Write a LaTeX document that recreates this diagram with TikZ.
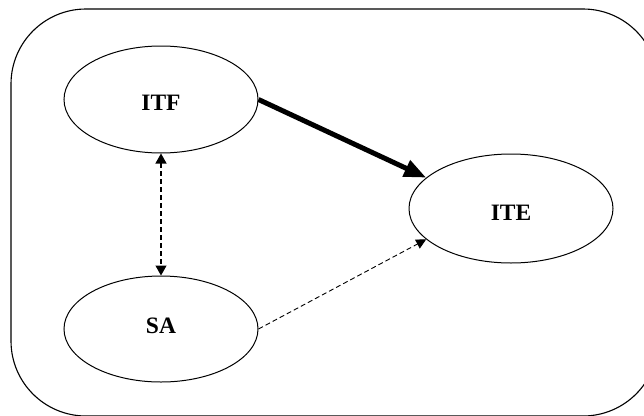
\documentclass[tikz,border=0pt]{standalone}
\usepackage{fontspec}
\setmainfont{Liberation Serif}
\usetikzlibrary{shapes.geometric,arrows.meta}
\begin{document}
\begin{tikzpicture}[x=1pt,y=-1pt,
  oval/.style={draw,line width=1pt,ellipse,inner sep=0pt},
  lbl/.style={font=\fontsize{23.5}{27}\selectfont\bfseries},
  strong/.style={line width=5pt,-{Triangle[length=22pt,width=17pt]}},
  weak/.style={line width=0.9pt,dash pattern=on 5pt off 3pt,-{Triangle[length=10pt,width=10pt]}},
  both/.style={line width=1.2pt,dash pattern=on 5pt off 3pt,{Triangle[length=10pt,width=11pt]}-{Triangle[length=10pt,width=11pt]}}]
\useasboundingbox (0,0) rectangle (644,415);
\clip (0,0) rectangle (644,415);
\draw[line width=1.1pt,rounded corners=75pt] (11,9) rectangle (658,416);
\node[oval,minimum width=194pt,minimum height=107pt,label={[lbl,yshift=-3.5pt]center:ITF}] (itf) at (161,99.5) {};
\node[oval,minimum width=194pt,minimum height=106pt,label={[lbl,yshift=3pt]center:SA}] (sa) at (161,329) {};
\node[oval,minimum width=204pt,minimum height=109pt,label={[lbl,yshift=-4pt]center:ITE}] (ite) at (511,208.5) {};
\draw[strong] (itf.east) -- (ite.160);
\draw[weak] (sa.east) -- (ite.200);
\draw[both] (itf.south) -- (sa.north);
\end{tikzpicture}
\end{document}
